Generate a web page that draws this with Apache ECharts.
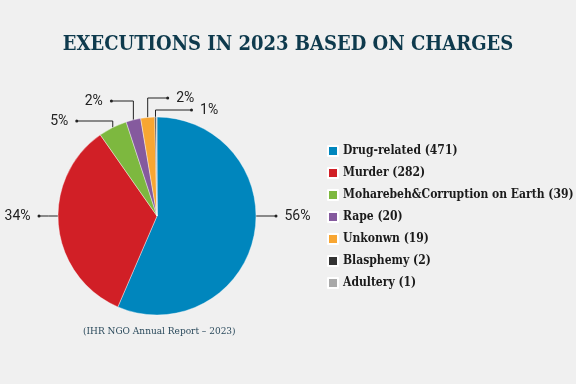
<!DOCTYPE html>
<html>
<head>
<meta charset="utf-8">
<script src="https://cdn.jsdelivr.net/npm/echarts@6/dist/echarts.min.js"></script>
<style>
html,body{margin:0;padding:0;background:#f0f0f0;}
#c{width:576px;height:384px;}
</style>
</head>
<body>
<div id="c"></div>
<script>
// ---- data ----
var categories = ['Drug-related', 'Murder', 'Moharebeh&Corruption on Earth', 'Rape', 'Unkonwn', 'Blasphemy', 'Adultery'];
var values = [471, 282, 39, 20, 19, 2, 1];
var percentLabels = ['56%', '34%', '5%', '2%', '2%', '1%', ''];
var colors = ['#0086bd', '#d11f26', '#7db83f', '#855a9e', '#f8a632', '#333333', '#a9a9a9'];

// ---- layout (styles only) ----
var CX = 157, CY = 216, R = 99;
var SERIF = "'DejaVu Serif Condensed', 'DejaVu Serif', serif";
var labelShapes = [
  {type: 'h', run: 20},
  {type: 'h', run: -19},
  {type: 'e', upTo: -95, run: -36},
  {type: 'e', upTo: -115, run: -22},
  {type: 'e', upTo: -118, run: 20},
  {type: 'e', upTo: -106, run: 36},
  null
];

var chart = echarts.init(document.getElementById('c'), null, {renderer: 'canvas'});

var data = categories.map(function (c, i) {
  var lab = percentLabels[i];
  var sh = labelShapes[i];
  var item = {name: c, value: values[i], itemStyle: {color: colors[i]}};
  if (!lab || !sh) {
    item.label = {show: false};
    item.labelLine = {show: false};
  } else {
    item.label = {
      show: true,
      formatter: sh.run > 0 ? '{d|}{t|' + lab + '}' : '{t|' + lab + '}{d|}'
    };
  }
  return item;
});

var option = {
  backgroundColor: '#f0f0f0',
  animation: false,
  title: [{
    text: 'EXECUTIONS IN 2023 BASED ON CHARGES',
    left: 'center',
    top: 30,
    textStyle: {
      fontFamily: SERIF,
      fontWeight: 'bold',
      fontSize: 20,
      color: '#0e3a4d'
    }
  }, {
    text: '(IHR NGO Annual Report \u2013 2023)',
    left: 78,
    top: 321,
    textStyle: {
      fontFamily: SERIF,
      fontWeight: 'normal',
      fontSize: 10,
      color: '#2b4a5c'
    }
  }],
  legend: {
    orient: 'vertical',
    left: 322,
    top: 138,
    itemWidth: 10,
    itemHeight: 10,
    itemGap: 6,
    icon: 'rect',
    data: categories,
    formatter: function (name) {
      var i = categories.indexOf(name);
      return name + ' (' + values[i] + ')';
    },
    textStyle: {
      fontFamily: SERIF,
      fontWeight: 'bold',
      fontSize: 12,
      lineHeight: 16,
      color: '#1a1a1a'
    }
  },
  series: [{
    type: 'pie',
    center: [CX, CY],
    radius: [0, R],
    startAngle: 90,
    clockwise: true,
    avoidLabelOverlap: false,
    itemStyle: {borderColor: '#ffffff', borderWidth: 0.4},
    label: {
      show: true,
      position: 'outside',
      color: '#222',
      fontFamily: 'Roboto, sans-serif',
      fontSize: 14,
      rich: {
        d: {width: 3, height: 3, borderRadius: 1.5, backgroundColor: '#222'},
        t: {fontFamily: 'Roboto, sans-serif', fontSize: 14, color: '#222', padding: [0, 7, 0, 7]}
      }
    },
    labelLine: {show: true, lineStyle: {color: '#222', width: 1}},
    labelLayout: function (p) {
      var sh = labelShapes[p.dataIndex];
      if (!sh) return {};
      var pts;
      if (sh.type === 'h') {
        var x0 = sh.run > 0 ? CX + R : CX - R;
        pts = [[x0, CY], [x0 + sh.run / 2, CY], [x0 + sh.run, CY]];
      } else {
        var a = p.labelLinePoints[0];
        var yTop = CY + sh.upTo;
        pts = [[a[0], a[1]], [a[0], yTop], [a[0] + sh.run, yTop]];
      }
      var end = pts[2];
      return {
        x: end[0] + (sh.run > 0 ? -1.5 : 1.5),
        y: end[1],
        align: sh.run > 0 ? 'left' : 'right',
        verticalAlign: 'middle',
        labelLinePoints: pts
      };
    },
    data: data
  }]
};
chart.setOption(option);
</script>
</body>
</html>
